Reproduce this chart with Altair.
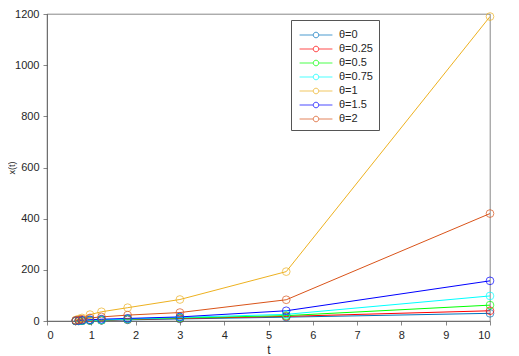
import altair as alt
import pandas as pd

t_vals = [0.65, 0.72, 0.79, 0.97, 1.23, 1.82, 3.0, 5.4, 10.0]
series_names = ["θ=0", "θ=0.25", "θ=0.5", "θ=0.75", "θ=1", "θ=1.5", "θ=2"]
series_colors = ["#0072BD", "#FF0000", "#00FF00", "#00FFFF", "#EDB120", "#0000FF", "#D95319"]
y_theta0 = [0.3, 0.5, 0.8, 1.5, 2.5, 4.5, 8, 15, 30]
y_theta025 = [0.4, 0.6, 1.0, 2.0, 3.0, 6, 10, 18, 40]
y_theta05 = [0.5, 0.7, 1.2, 2.5, 3.5, 7, 12, 21, 62]
y_theta075 = [0.6, 0.8, 1.4, 3.0, 4.0, 8, 14, 26, 98]
y_theta1 = [4, 8, 12, 25, 36, 52, 84, 193, 1190]
y_theta15 = [1, 2, 3, 5, 7, 10, 16, 40, 157]
y_theta2 = [2, 4, 7, 12, 16, 23, 33, 83, 420]

all_y = [y_theta0, y_theta025, y_theta05, y_theta075, y_theta1, y_theta15, y_theta2]
rows = []
for name, ys in zip(series_names, all_y):
    for t, y in zip(t_vals, ys):
        rows.append({"t": t, "x": y, "series": name})
df = pd.DataFrame(rows)

legend_symbol = ("M-2,0L-0.34,0M0.34,0L2,0"
                 "M-0.34,0A0.34,0.34 0 1,1 0.34,0A0.34,0.34 0 1,1 -0.34,0Z")

color = alt.Color(
    "series:N",
    scale=alt.Scale(domain=series_names, range=series_colors),
    sort=series_names,
    legend=alt.Legend(
        title=None, orient="none", legendX=244, legendY=6,
        symbolType=legend_symbol, symbolSize=270, symbolStrokeWidth=1,
        symbolFillColor="transparent", labelFont="Liberation Sans",
        labelFontSize=11, labelColor="#262626", rowPadding=-5,
        padding=6, strokeColor="#555555", fillColor="white",
        symbolOffset=10, labelOffset=14,
    ),
)

x_enc = alt.X("t:Q", scale=alt.Scale(domain=[0, 10], nice=False),
              axis=alt.Axis(title="t", values=list(range(0, 11)), grid=False, format="d"))
y_enc = alt.Y("x:Q", scale=alt.Scale(domain=[0, 1200], nice=False),
              axis=alt.Axis(title="x(t)", values=list(range(0, 1201, 200)), grid=False,
                            format="d", titleX=-31, titleFontSize=9))

base = alt.Chart(df).encode(x=x_enc, y=y_enc, color=color, detail="series:N")
lines = base.mark_line(strokeWidth=1)
points = base.mark_point(shape="circle", filled=False, size=60, strokeWidth=1)

chart = (lines + points).properties(
    width=443, height=307,
    autosize=alt.AutoSizeParams(type="none"),
    padding={"left": 39, "top": 6, "right": 21, "bottom": 36},
).configure_view(stroke="#555555", strokeWidth=0.7).configure_axis(
    domainColor="#555555", tickColor="#555555", labelColor="#262626",
    titleColor="#262626", labelFont="Liberation Sans", titleFont="Liberation Sans",
    labelFontSize=11, titleFontSize=12, titleFontWeight="normal", tickSize=4,
    domainWidth=0.7, tickWidth=0.7,
).configure_axisX(titlePadding=4, labelPadding=4).configure_axisY(labelPadding=4)

chart.save("out.html", embed_options={"renderer": "svg", "actions": False})
